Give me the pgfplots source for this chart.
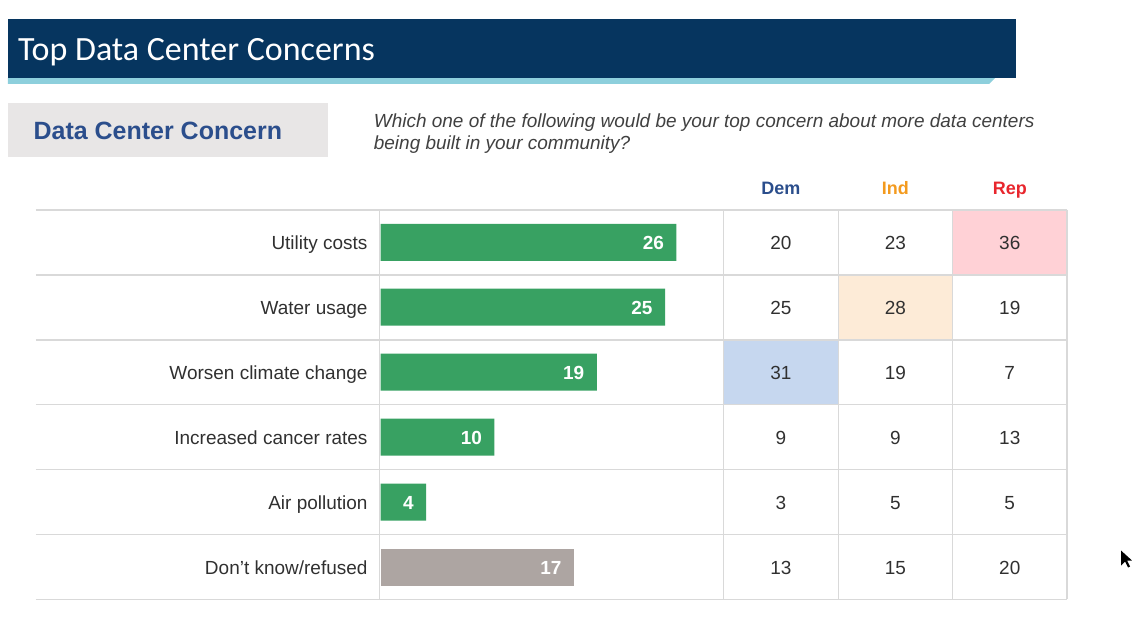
\documentclass[border=0pt]{standalone}
\usepackage{pgfplots}
\pgfplotsset{compat=1.18}
\usepackage{fontspec}
\setmainfont{Liberation Sans}
\newfontfamily\titlefont{Carlito}

\definecolor{navy}{HTML}{06355F}
\definecolor{stripe}{HTML}{8DCFDC}
\definecolor{boxgray}{HTML}{E8E6E6}
\definecolor{boxblue}{HTML}{2B4E8C}
\definecolor{qgray}{HTML}{404040}
\definecolor{demc}{HTML}{2B4E8C}
\definecolor{indc}{HTML}{F39A1E}
\definecolor{repc}{HTML}{E8262D}
\definecolor{barg}{HTML}{38A162}
\definecolor{barn}{HTML}{ADA5A2}
\definecolor{pinkc}{HTML}{FFD1D6}
\definecolor{peachc}{HTML}{FDEBD7}
\definecolor{bluec}{HTML}{C6D7EF}
\definecolor{gridc}{HTML}{D9D9D9}
\definecolor{numc}{HTML}{303030}

\tikzset{
  rowlab/.style={anchor=base east, inner sep=0, text=numc, font=\fontsize{19}{22}\selectfont},
  hdr/.style={anchor=base, inner sep=0, font=\bfseries\fontsize{18}{22}\selectfont},
  gl/.style={gridc, line width=1.6pt},
  vl/.style={gridc, line width=1.3pt},
}

\begin{document}
\begin{tikzpicture}
% slide furniture, in pixel units (y down)
\begin{scope}[x=1pt,y=-1pt]
  \path (0,0) rectangle (1132,638);
  \fill[stripe] (8,78) -- (996,78) -- (990,84) -- (8,84) -- cycle;
  \fill[navy] (8,19) rectangle (1017,78);
  \node[anchor=base west, inner sep=0, text=white,
        font=\titlefont\fontsize{34}{38}\selectfont] at (18,61) {Top Data Center Concerns};
  \fill[boxgray] (8,103) rectangle (328,157);
  \node[anchor=base, inner sep=0, text=boxblue,
        font=\bfseries\fontsize{25}{30}\selectfont] at (158,140) {Data Center Concern};
  \node[anchor=base west, inner sep=0, text=qgray, font=\itshape\fontsize{19}{22}\selectfont]
    at (374,128) {Which one of the following would be your top concern about more data centers};
  \node[anchor=base west, inner sep=0, text=qgray, font=\itshape\fontsize{19}{22}\selectfont]
    at (374,150) {being built in your community?};
  % mouse pointer
  \fill[black] (1122,551) -- (1122,566) -- (1126,562) -- (1129,568) -- (1131,567) -- (1128,561) -- (1133,561) -- cycle;
\end{scope}

\begin{axis}[
    at={(36pt,-210pt)}, anchor=north west,
    scale only axis, width=1032pt, height=390pt,
    xmin=-30.3, xmax=60.34,
    ymin=-0.5, ymax=5.5, y dir=reverse,
    hide axis, clip=false,
    bar width=0.57,
    /pgf/number format/assume math mode=true,
]
% highlighted cells
\fill[pinkc]  (axis cs:50.24,-0.5) rectangle (axis cs:60.34,0.5);
\fill[peachc] (axis cs:40.23,0.5)  rectangle (axis cs:50.24,1.5);
\fill[bluec]  (axis cs:30.13,1.5)  rectangle (axis cs:40.23,2.5);

% grid
\draw[gl] (axis cs:-30.3,-0.5) -- (axis cs:60.34,-0.5);
\draw[gl] (axis cs:-30.3,0.5) -- (axis cs:60.34,0.5);
\draw[gl] (axis cs:-30.3,1.5) -- (axis cs:60.34,1.5);
\draw[gl] (axis cs:-30.3,2.5) -- (axis cs:60.34,2.5);
\draw[gl] (axis cs:-30.3,3.5) -- (axis cs:60.34,3.5);
\draw[gl] (axis cs:-30.3,4.5) -- (axis cs:60.34,4.5);
\draw[gl] (axis cs:-30.3,5.5) -- (axis cs:60.34,5.5);
\draw[vl] (axis cs:-0.1,-0.5) -- (axis cs:-0.1,5.5);
\draw[vl] (axis cs:30.13,-0.5) -- (axis cs:30.13,5.5);
\draw[vl] (axis cs:40.23,-0.5) -- (axis cs:40.23,5.5);
\draw[vl] (axis cs:50.24,-0.5) -- (axis cs:50.24,5.5);
\draw[vl] (axis cs:60.34,-0.5) -- (axis cs:60.34,5.5);

% bars
\addplot[xbar, bar shift=0pt, fill=barg, draw=none,
    nodes near coords,
    every node near coord/.style={anchor=base east, xshift=-9pt, yshift=-7pt,
        text=white, font=\bfseries\fontsize{19}{22}\selectfont}]
  coordinates {(26,0) (25,1) (19,2) (10,3) (4,4)};
\addplot[xbar, bar shift=0pt, fill=barn, draw=none,
    nodes near coords,
    every node near coord/.style={anchor=base east, xshift=-9pt, yshift=-7pt,
        text=white, font=\bfseries\fontsize{19}{22}\selectfont}]
  coordinates {(17,5)};

% party table: x = column, meta = value
\addplot[only marks, mark=none, point meta=explicit,
    nodes near coords,
    every node near coord/.style={anchor=base, yshift=-7pt,
        text=numc, font=\fontsize{19}{22}\selectfont}]
  coordinates {
    (35.18,0) [20] (45.24,0) [23] (55.30,0) [36]
    (35.18,1) [25] (45.24,1) [28] (55.30,1) [19]
    (35.18,2) [31] (45.24,2) [19] (55.30,2) [7]
    (35.18,3) [9]  (45.24,3) [9]  (55.30,3) [13]
    (35.18,4) [3]  (45.24,4) [5]  (55.30,4) [5]
    (35.18,5) [13] (45.24,5) [15] (55.30,5) [20]
  };

% row labels
\node[rowlab] at (axis cs:-1.14,0.108) {Utility costs};
\node[rowlab] at (axis cs:-1.14,1.108) {Water usage};
\node[rowlab] at (axis cs:-1.14,2.108) {Worsen climate change};
\node[rowlab] at (axis cs:-1.14,3.108) {Increased cancer rates};
\node[rowlab] at (axis cs:-1.14,4.108) {Air pollution};
\node[rowlab] at (axis cs:-1.14,5.108) {Don’t know/refused};

% column headers
\node[hdr, text=demc] at (axis cs:35.18,-0.731) {Dem};
\node[hdr, text=indc] at (axis cs:45.24,-0.731) {Ind};
\node[hdr, text=repc] at (axis cs:55.30,-0.731) {Rep};
\end{axis}
\end{tikzpicture}
\end{document}
